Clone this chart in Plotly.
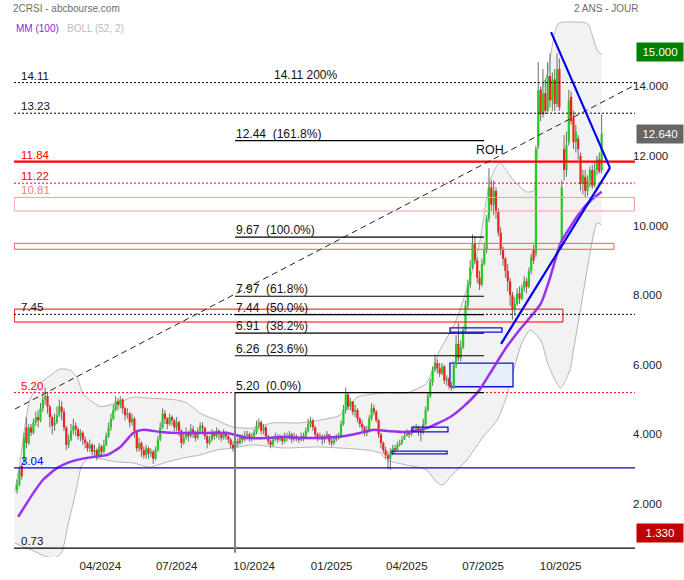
import numpy as np
import pandas as pd
import plotly.graph_objects as go

# ---------------- data ----------------
FIRST_SESSION = "2023-12-22"
N_SESSIONS = 499
SESSIONS_PER_CANDLE = 2

opens = [
    2.40, 2.55, 3.10, 3.20, 4.20, 3.75, 4.20, 4.05, 4.35, 4.50,
    4.40, 4.75, 5.00, 5.10, 4.80, 4.50, 4.25, 4.35, 4.55, 4.80,
    4.65, 4.20, 3.70, 3.85, 4.10, 4.25, 4.15, 3.95, 4.05, 3.85,
    3.75, 3.60, 3.70, 3.50, 3.55, 3.40, 3.65, 3.50, 3.70, 3.95,
    4.20, 4.45, 4.70, 4.95, 4.85, 5.00, 4.75, 4.55, 4.60, 4.35,
    4.45, 4.10, 3.60, 3.75, 3.55, 3.40, 3.60, 3.45, 3.50, 3.30,
    3.55, 3.85, 4.20, 4.60, 4.45, 4.30, 4.50, 4.40, 4.20, 4.35,
    4.10, 3.75, 3.90, 4.05, 3.95, 4.15, 4.05, 3.90, 4.10, 4.25,
    4.20, 3.95, 3.75, 3.85, 4.05, 3.95, 4.10, 4.00, 3.90, 4.05,
    3.95, 3.85, 3.70, 3.60, 3.80, 3.75, 3.90, 3.85, 3.95, 4.00,
    3.90, 3.95, 4.05, 4.25, 4.35, 4.10, 4.20, 3.95, 3.80, 3.70,
    3.85, 3.95, 3.85, 3.90, 3.80, 3.95, 3.90, 4.00, 3.85, 3.95,
    3.90, 3.85, 3.95, 3.90, 4.10, 4.30, 4.40, 4.20, 4.00, 3.90,
    3.95, 3.85, 3.90, 4.00, 3.80, 3.75, 3.85, 3.90, 3.95, 4.30,
    4.70, 5.15, 4.80, 4.95, 4.65, 4.70, 4.45, 4.30, 4.20, 4.05,
    4.10, 4.45, 4.75, 4.65, 4.40, 4.00, 3.75, 3.55, 3.40, 3.30,
    3.45, 3.60, 3.55, 3.70, 3.75, 3.85, 3.95, 4.05, 4.00, 4.10,
    4.15, 4.20, 4.10, 4.05, 4.30, 4.70, 5.10, 5.50, 5.85, 6.05,
    5.90, 5.75, 5.95, 5.55, 5.60, 5.40, 5.35, 6.00, 6.60, 6.20,
    6.50, 7.00, 7.70, 8.30, 8.80, 9.50, 9.00, 8.50, 8.30, 8.90,
    9.30, 10.20, 11.10, 10.60, 11.00, 10.40, 9.80, 9.30, 9.05, 8.70,
    8.40, 8.00, 7.60, 7.75, 8.05, 7.90, 8.20, 8.40, 8.25, 8.70,
    9.30, 9.20, 12.30, 13.90, 13.20, 13.80, 13.30, 14.30, 13.60, 14.20,
    13.50, 14.50, 9.50, 12.20, 11.60, 12.40, 13.70, 13.10, 12.40, 12.50,
    12.00, 11.20, 11.40, 11.00, 11.30, 11.60, 11.15, 11.60, 11.90, 11.60,
]
closes = [
    2.55, 2.95, 2.80, 3.90, 3.75, 4.20, 4.05, 4.35, 4.50, 4.40,
    4.75, 5.00, 5.10, 4.80, 4.50, 4.25, 4.35, 4.55, 4.80, 4.65,
    4.20, 3.70, 3.85, 4.10, 4.25, 4.15, 3.95, 4.05, 3.85, 3.75,
    3.60, 3.70, 3.50, 3.55, 3.40, 3.65, 3.50, 3.70, 3.95, 4.20,
    4.45, 4.70, 4.95, 4.85, 5.00, 4.75, 4.55, 4.60, 4.35, 4.45,
    4.10, 3.60, 3.75, 3.55, 3.40, 3.60, 3.45, 3.50, 3.30, 3.55,
    3.85, 4.20, 4.60, 4.45, 4.30, 4.50, 4.40, 4.20, 4.35, 4.10,
    3.75, 3.90, 4.05, 3.95, 4.15, 4.05, 3.90, 4.10, 4.25, 4.20,
    3.95, 3.75, 3.85, 4.05, 3.95, 4.10, 4.00, 3.90, 4.05, 3.95,
    3.85, 3.70, 3.60, 3.80, 3.75, 3.90, 3.85, 3.95, 4.00, 3.90,
    3.95, 4.05, 4.25, 4.35, 4.10, 4.20, 3.95, 3.80, 3.70, 3.85,
    3.95, 3.85, 3.90, 3.80, 3.95, 3.90, 4.00, 3.85, 3.95, 3.90,
    3.85, 3.95, 3.90, 4.10, 4.30, 4.40, 4.20, 4.00, 3.90, 3.95,
    3.85, 3.90, 4.00, 3.80, 3.75, 3.85, 3.90, 3.95, 4.30, 4.70,
    5.15, 4.80, 4.95, 4.65, 4.70, 4.45, 4.30, 4.20, 4.05, 4.10,
    4.45, 4.75, 4.65, 4.40, 4.00, 3.75, 3.55, 3.40, 3.30, 3.45,
    3.60, 3.55, 3.70, 3.75, 3.85, 3.95, 4.05, 4.00, 4.10, 4.15,
    4.20, 4.10, 4.05, 4.30, 4.70, 5.10, 5.50, 5.85, 6.05, 5.90,
    5.75, 5.95, 5.55, 5.60, 5.40, 5.35, 6.00, 6.60, 6.20, 6.50,
    7.00, 7.70, 8.30, 8.80, 9.50, 9.00, 8.50, 8.30, 8.90, 9.30,
    10.20, 11.10, 10.60, 11.00, 10.40, 9.80, 9.30, 9.05, 8.70, 8.40,
    8.00, 7.60, 7.75, 8.05, 7.90, 8.20, 8.40, 8.25, 8.70, 9.10,
    9.00, 12.20, 13.90, 13.20, 13.80, 13.30, 14.30, 13.60, 14.20, 13.50,
    14.50, 13.40, 11.10, 11.60, 12.30, 13.60, 13.00, 12.40, 12.70, 12.20,
    11.20, 11.45, 11.00, 11.30, 11.60, 11.15, 11.60, 11.90, 11.55, 12.64,
]
highs = [
    2.70, 3.05, 3.15, 4.05, 4.50, 4.30, 4.30, 4.45, 4.65, 4.70,
    4.90, 5.15, 5.35, 5.20, 4.85, 4.55, 4.60, 4.80, 5.00, 4.95,
    4.75, 4.25, 4.00, 4.30, 4.45, 4.35, 4.20, 4.15, 4.10, 3.95,
    3.80, 3.85, 3.75, 3.70, 3.60, 3.75, 3.70, 3.85, 4.05, 4.35,
    4.60, 4.85, 5.10, 5.05, 5.10, 5.05, 4.80, 4.75, 4.65, 4.60,
    4.50, 4.10, 3.90, 3.80, 3.65, 3.70, 3.65, 3.60, 3.55, 3.65,
    3.95, 4.35, 4.75, 4.70, 4.50, 4.60, 4.55, 4.45, 4.50, 4.40,
    4.15, 4.05, 4.20, 4.10, 4.30, 4.25, 4.10, 4.20, 4.35, 4.35,
    4.20, 4.00, 3.95, 4.15, 4.10, 4.20, 4.15, 4.05, 4.15, 4.10,
    4.00, 3.90, 3.80, 3.90, 3.90, 4.00, 4.00, 4.10, 4.10, 4.05,
    4.05, 4.15, 4.40, 4.45, 4.40, 4.30, 4.25, 4.00, 3.85, 3.95,
    4.05, 4.00, 4.00, 3.95, 4.05, 4.05, 4.10, 4.05, 4.05, 4.00,
    3.95, 4.05, 4.05, 4.20, 4.45, 4.50, 4.45, 4.25, 4.05, 4.05,
    4.00, 4.00, 4.10, 4.00, 3.90, 3.95, 4.00, 4.05, 4.40, 4.85,
    5.35, 5.20, 5.05, 4.95, 4.85, 4.75, 4.50, 4.40, 4.25, 4.25,
    4.55, 4.90, 4.85, 4.70, 4.45, 4.05, 3.80, 3.65, 3.50, 3.60,
    3.70, 3.70, 3.80, 3.85, 3.95, 4.05, 4.15, 4.10, 4.20, 4.25,
    4.30, 4.25, 4.15, 4.45, 4.80, 5.20, 5.60, 5.95, 6.30, 6.15,
    6.05, 6.05, 6.00, 5.70, 5.65, 5.50, 6.10, 6.85, 7.20, 6.70,
    7.10, 7.85, 8.45, 9.00, 9.75, 9.70, 9.10, 8.70, 9.05, 9.50,
    10.30, 11.65, 11.30, 11.30, 11.10, 10.50, 9.95, 9.40, 9.10, 8.90,
    8.50, 8.10, 7.95, 8.20, 8.25, 8.30, 8.55, 8.50, 8.80, 9.20,
    9.45, 12.30, 14.70, 14.00, 14.50, 14.20, 14.70, 14.95, 14.40, 14.50,
    14.95, 14.80, 11.30, 12.60, 12.70, 13.90, 13.85, 13.30, 12.90, 12.60,
    12.10, 11.60, 11.60, 11.45, 11.70, 11.75, 11.80, 12.00, 12.10, 13.20,
]
lows = [
    2.30, 2.50, 2.70, 3.15, 3.60, 3.70, 3.95, 4.00, 4.25, 4.20,
    4.35, 4.65, 4.85, 4.60, 4.20, 4.00, 4.10, 4.30, 4.50, 4.40,
    4.10, 3.55, 3.60, 3.80, 4.00, 3.95, 3.85, 3.80, 3.70, 3.60,
    3.50, 3.50, 3.40, 3.35, 3.25, 3.35, 3.40, 3.45, 3.65, 3.90,
    4.10, 4.40, 4.65, 4.70, 4.75, 4.60, 4.40, 4.45, 4.20, 4.25,
    3.90, 3.50, 3.50, 3.35, 3.30, 3.30, 3.30, 3.35, 3.15, 3.25,
    3.50, 3.80, 4.15, 4.30, 4.15, 4.25, 4.25, 4.10, 4.10, 3.95,
    3.60, 3.70, 3.85, 3.80, 3.90, 3.90, 3.80, 3.85, 4.05, 4.05,
    3.85, 3.60, 3.70, 3.80, 3.85, 3.90, 3.85, 3.80, 3.85, 3.85,
    3.75, 3.60, 3.50, 3.55, 3.65, 3.70, 3.75, 3.80, 3.85, 3.80,
    3.80, 3.90, 4.00, 4.15, 4.00, 4.00, 3.90, 3.70, 3.60, 3.65,
    3.80, 3.75, 3.80, 3.70, 3.75, 3.80, 3.85, 3.75, 3.80, 3.80,
    3.75, 3.80, 3.80, 3.90, 4.05, 4.20, 4.10, 3.90, 3.80, 3.85,
    3.70, 3.75, 3.85, 3.70, 3.65, 3.70, 3.80, 3.85, 3.90, 4.25,
    4.60, 4.70, 4.70, 4.55, 4.50, 4.35, 4.20, 4.05, 3.95, 3.95,
    4.05, 4.40, 4.55, 4.35, 3.90, 3.60, 3.45, 3.30, 3.00, 2.98,
    3.40, 3.45, 3.55, 3.65, 3.70, 3.85, 3.95, 3.90, 3.95, 4.05,
    4.05, 3.95, 3.80, 4.00, 4.25, 4.65, 5.05, 5.40, 5.80, 5.75,
    5.65, 5.70, 5.45, 5.40, 5.30, 5.25, 5.30, 5.90, 6.10, 6.10,
    6.45, 6.95, 7.60, 8.20, 8.75, 8.90, 8.35, 8.15, 8.25, 8.85,
    9.20, 10.10, 10.40, 10.30, 10.20, 9.70, 9.15, 8.85, 8.50, 8.10,
    7.70, 7.30, 7.45, 7.70, 7.75, 7.85, 8.10, 8.05, 8.20, 8.60,
    8.90, 9.10, 12.20, 13.00, 13.10, 13.20, 13.25, 13.40, 13.30, 13.30,
    13.40, 13.30, 9.30, 11.30, 11.40, 12.30, 12.90, 12.20, 12.10, 11.90,
    11.00, 10.90, 10.80, 10.85, 11.10, 11.05, 11.10, 11.45, 11.50, 11.50,
]

# moving average MM(100), sampled (session index, value)
ma_idx = [1, 14, 22, 34, 43, 54, 65, 77, 88, 99, 107, 122, 139, 156, 179, 196, 213, 227, 241, 258,
          275, 292, 303, 315, 332, 349, 369, 380, 394, 403, 417, 428, 446, 454, 463, 471, 480, 488, 498]
ma_val = [1.63, 2.32, 2.69, 3.03, 3.18, 3.29, 3.35, 3.41, 3.64, 4.04, 4.13, 4.07, 4.04, 4.04, 4.04, 3.90,
          3.90, 3.93, 3.90, 3.90, 3.93, 4.04, 4.13, 4.10, 4.07, 4.18, 4.50, 4.79, 5.28, 5.76, 6.51, 7.00,
          7.75, 8.50, 9.50, 9.95, 10.40, 10.70, 10.97]

# Bollinger (52, 2) bands, sampled
boll_up_idx = [-2, 3, 7, 11, 20, 31, 37, 45, 51, 56, 62, 71, 85, 99, 113, 136, 145, 156, 170, 184,
               201, 218, 241, 258, 275, 290, 312, 332, 349, 360, 373, 383, 394, 403, 411, 423, 434, 440,
               443, 446, 452, 461, 475, 486, 494, 498]
boll_up_val = [2.34, 3.30, 4.30, 5.00, 5.48, 5.76, 5.88, 5.85, 5.65, 5.19, 4.99, 4.80, 4.90, 5.07, 5.04,
               4.99, 4.90, 4.61, 4.41, 4.21, 4.18, 4.33, 4.33, 4.41, 4.55, 5.07, 5.19, 5.19, 5.48, 6.40,
               7.20, 8.15, 9.50, 11.30, 11.80, 11.30, 10.97, 11.00, 11.90, 13.80, 14.40, 15.80, 15.85,
               15.80, 15.05, 14.90]
boll_lo_idx = [-2, 11, 24, 32, 38, 43, 47, 51, 55, 62, 71, 85, 99, 113, 128, 141, 156, 170, 184, 201,
               227, 256, 275, 298, 309, 315, 332, 349, 358, 363, 369, 383, 397, 409, 417, 423, 430, 437,
               446, 452, 457, 463, 471, 474, 480, 486, 494, 498]
boll_lo_val = [0.88, 0.70, 0.50, 0.45, 0.60, 1.34, 1.90, 2.49, 3.10, 3.35, 3.30, 3.21, 3.18, 3.06, 3.21,
               3.32, 3.41, 3.55, 3.61, 3.70, 3.61, 3.64, 3.61, 3.55, 3.47, 3.26, 3.12, 2.98, 2.60, 2.55,
               2.78, 3.26, 3.93, 4.41, 5.07, 5.85, 6.63, 7.00, 6.71, 6.05, 5.65, 5.33, 5.85, 6.43, 7.60,
               8.81, 10.07, 10.02]

# horizontal levels drawn across the chart
level_values = [14.11, 13.23, 11.84, 11.22, 10.81, 7.45, 5.20, 3.04, 0.73]
level_labels = ["14.11", "13.23", "11.84", "11.22", "10.81", "7.45", "5.20", "3.04", "0.73"]

# zones (low, high, end session)
zone_low = [10.42, 9.32, 7.23]
zone_high = [10.81, 9.49, 7.60]
zone_end = [526.0, 508.5, 465.0]

# Fibonacci retracement
fib_levels = [12.44, 9.67, 7.97, 7.44, 6.91, 6.26, 5.20]
fib_pcts = ["161.8%", "100.0%", "61.8%", "50.0%", "38.2%", "23.6%", "0.0%"]
fib_start, fib_end = 185.7, 397.8
fib_ext_level, fib_ext_text = 14.11, "14.11 200%"

# blue boxes (x0, x1 session, low, high)
box_x0 = [368.8, 368.8, 336.5, 319.4]
box_x1 = [422.5, 413.1, 367.1, 366.3]
box_low = [5.37, 6.94, 4.07, 3.44]
box_high = [6.05, 7.06, 4.21, 3.52]

# trend lines
wedge_idx = [454.9, 505.1, 412.3]
wedge_val = [15.56, 11.66, 6.60]
trend_idx = [-1.7, 526.4]
trend_val = [4.73, 14.04]

tag_values = [15.0, 12.64, 1.33]
tag_texts = ["15.000", "12.640", "1.330"]

quarter_starts = ["2024-04-01", "2024-07-01", "2024-10-01", "2025-01-01",
                  "2025-04-01", "2025-07-01", "2025-10-01"]
price_ticks = [2, 4, 6, 8, 10, 12, 14]

# ---------------- figure ----------------
sessions = pd.bdate_range(FIRST_SESSION, periods=N_SESSIONS)
cx = np.arange(len(closes)) * SESSIONS_PER_CANDLE
tickvals = [int(np.searchsorted(sessions, pd.Timestamp(d))) for d in quarter_starts]
ticktext = [pd.Timestamp(d).strftime("%m/%Y") for d in quarter_starts]

X_RANGE = [-2.56, 526.4]
Y_RANGE = [0.477, 15.966]
FONT = "Liberation Sans, Arial, sans-serif"

fig = go.Figure()

# Bollinger fill
fig.add_trace(go.Scatter(
    x=boll_up_idx + boll_lo_idx[::-1], y=boll_up_val + boll_lo_val[::-1],
    fill="toself", fillcolor="#f2f2f2", line=dict(width=0), mode="lines",
    hoverinfo="skip", showlegend=False))
for bx, bv in ((boll_up_idx, boll_up_val), (boll_lo_idx, boll_lo_val)):
    fig.add_trace(go.Scatter(x=bx, y=bv, mode="lines",
                             line=dict(color="#b4b4b4", width=1, shape="spline", smoothing=0.6),
                             hoverinfo="skip", showlegend=False))

# filled blue box (first one)
fig.add_trace(go.Scatter(
    x=[box_x0[0], box_x1[0], box_x1[0], box_x0[0], box_x0[0]],
    y=[box_low[0], box_low[0], box_high[0], box_high[0], box_low[0]],
    fill="toself", fillcolor="#e6eef8", mode="lines",
    line=dict(color="#1010d0", width=1.3), hoverinfo="skip", showlegend=False))

# wicks
wx, wy = [], []
for x, h, l in zip(cx, highs, lows):
    wx += [x, x, None]
    wy += [l, h, None]
fig.add_trace(go.Scatter(x=wx, y=wy, mode="lines", line=dict(color="#6e6e6e", width=1),
                         hoverinfo="skip", showlegend=False))

# bodies as thick segments
MIN_BODY = 0.04
for up, col in ((True, "#22cc22"), (False, "#ee2222")):
    bx, by = [], []
    for x, o, c in zip(cx, opens, closes):
        if (c >= o) != up:
            continue
        lo, hi = min(o, c), max(o, c)
        if hi - lo < MIN_BODY:
            mid = (hi + lo) / 2
            lo, hi = mid - MIN_BODY / 2, mid + MIN_BODY / 2
        bx += [x, x, None]
        by += [lo, hi, None]
    fig.add_trace(go.Scatter(x=bx, y=by, mode="lines", line=dict(color=col, width=2.2),
                             hoverinfo="skip", showlegend=False))

# MM(100)
fig.add_trace(go.Scatter(x=ma_idx, y=ma_val, mode="lines",
                         line=dict(color="#9b30f0", width=2.5, shape="spline", smoothing=0.6),
                         hoverinfo="skip", showlegend=False))

shapes = []
annotations = []

level_style = {
    "14.11": dict(color="#000000", width=1, dash="2px,2px"),
    "13.23": dict(color="#000000", width=1, dash="2px,2px"),
    "11.84": dict(color="#ff0000", width=2.2, dash="solid"),
    "11.22": dict(color="#ff0000", width=1, dash="2px,2px"),
    "10.81": None,
    "7.45": dict(color="#000000", width=1, dash="2px,2px"),
    "5.20": dict(color="#ff0000", width=1, dash="2px,2px"),
    "3.04": dict(color="#0000dd", width=1.2, dash="solid"),
    "0.73": dict(color="#000000", width=1.3, dash="solid"),
}
label_color = {"14.11": "#111111", "13.23": "#111111", "11.84": "#ff0000", "11.22": "#ff0000",
               "10.81": "#f08080", "7.45": "#111111", "5.20": "#ff0000", "3.04": "#0000ff",
               "0.73": "#111111"}

# zones
zone_colors = ["#ff9a9a", "#ff5a5a", "#ff0000"]
for lo, hi, xe, zc in zip(zone_low, zone_high, zone_end, zone_colors):
    shapes.append(dict(type="rect", xref="x", yref="y", x0=-2.3, x1=xe, y0=lo, y1=hi,
                       line=dict(color=zc, width=1), fillcolor="rgba(0,0,0,0)", layer="above"))

for v, lab in zip(level_values, level_labels):
    st = level_style[lab]
    if st is not None:
        shapes.append(dict(type="line", xref="x", yref="y", x0=X_RANGE[0], x1=X_RANGE[1], y0=v, y1=v,
                           line=st, layer="above"))
    annotations.append(dict(x=1.5, y=v, xref="x", yref="y", text=lab, showarrow=False,
                            xanchor="left", yanchor="bottom", yshift=-1,
                            font=dict(family=FONT, size=11.5, color=label_color[lab])))

# fib vertical anchor line
shapes.append(dict(type="line", xref="x", yref="paper", x0=fib_start, x1=fib_start,
                   y0=0.008, y1=(fib_levels[-1] - Y_RANGE[0]) / (Y_RANGE[1] - Y_RANGE[0]),
                   line=dict(color="#808080", width=2), layer="above"))
for v, p in zip(fib_levels, fib_pcts):
    shapes.append(dict(type="line", xref="x", yref="y", x0=fib_start, x1=fib_end, y0=v, y1=v,
                       line=dict(color="#000000", width=1.2), layer="above"))
    annotations.append(dict(x=fib_start - 0.5, y=v, xref="x", yref="y",
                            text=f"{v:.2f}\u00a0\u00a0({p})", showarrow=False,
                            xanchor="left", yanchor="bottom", yshift=-2,
                            font=dict(family=FONT, size=12, color="#111111")))
annotations.append(dict(x=217.0, y=fib_ext_level, xref="x", yref="y", text=fib_ext_text,
                        showarrow=False, xanchor="left", yanchor="bottom", yshift=-1,
                        font=dict(family=FONT, size=12, color="#111111")))
annotations.append(dict(x=389.0, y=11.84, xref="x", yref="y", text="ROH",
                        showarrow=False, xanchor="left", yanchor="bottom", yshift=3,
                        font=dict(family=FONT, size=12.5, color="#111111")))

# blue outline boxes
for x0, x1, lo, hi in list(zip(box_x0, box_x1, box_low, box_high))[1:]:
    shapes.append(dict(type="rect", xref="x", yref="y", x0=x0, x1=x1, y0=lo, y1=hi,
                       line=dict(color="#1010d0", width=1.3), fillcolor="rgba(0,0,0,0)",
                       layer="above"))

# dashed trend line
shapes.append(dict(type="line", xref="x", yref="y", x0=trend_idx[0], x1=trend_idx[1],
                   y0=trend_val[0], y1=trend_val[1],
                   line=dict(color="#222222", width=1, dash="6px,4px"), layer="above"))
# wedge
shapes.append(dict(type="line", xref="x", yref="y", x0=wedge_idx[0], x1=wedge_idx[1],
                   y0=wedge_val[0], y1=wedge_val[1], line=dict(color="#0000ee", width=2.2),
                   layer="above"))
shapes.append(dict(type="line", xref="x", yref="y", x0=wedge_idx[2], x1=wedge_idx[1],
                   y0=wedge_val[2], y1=wedge_val[1], line=dict(color="#0000ee", width=2.2),
                   layer="above"))

# value tags on the price scale
tag_bg = ["#008000", "#666666", "#c00000"]
tag_shift = [0, 0, -6]
for v, t, bg, sh in zip(tag_values, tag_texts, tag_bg, tag_shift):
    annotations.append(dict(x=1, y=v, xref="paper", yref="y", text=t, showarrow=False,
                            xanchor="left", yanchor="middle", xshift=1, yshift=sh,
                            bgcolor=bg, width=44, height=16, borderpad=1,
                            font=dict(family=FONT, size=11.5, color="#ffffff")))

# header texts
annotations += [
    dict(x=-0.005, y=1.017, xref="paper", yref="paper", text="2CRSI - abcbourse.com",
         showarrow=False, xanchor="left", yanchor="middle",
         font=dict(family=FONT, size=10, color="#6e6e6e")),
    dict(x=1.008, y=1.017, xref="paper", yref="paper", text="2 ANS - JOUR",
         showarrow=False, xanchor="right", yanchor="middle",
         font=dict(family=FONT, size=10, color="#6e6e6e")),
    dict(x=0.0, y=0.98, xref="paper", yref="paper", text="MM (100)",
         showarrow=False, xanchor="left", yanchor="middle",
         font=dict(family=FONT, size=10, color="#8a2be2")),
    dict(x=0.082, y=0.98, xref="paper", yref="paper", text="BOLL (52, 2)",
         showarrow=False, xanchor="left", yanchor="middle",
         font=dict(family=FONT, size=10, color="#bdbdbd")),
]

fig.update_layout(
    width=684, height=580,
    margin=dict(l=14, r=49, t=18, b=23, autoexpand=False),
    paper_bgcolor="#ffffff", plot_bgcolor="#ffffff",
    showlegend=False,
    shapes=shapes, annotations=annotations,
    xaxis=dict(range=X_RANGE, tickvals=tickvals, ticktext=ticktext, showgrid=False,
               zeroline=False, showline=False, ticks="", fixedrange=True, automargin=False,
               tickfont=dict(family=FONT, size=11.5, color="#222222")),
    yaxis=dict(range=Y_RANGE, side="right", tickvals=price_ticks,
               ticktext=[f"{t:.3f}" for t in price_ticks], showgrid=False, zeroline=False,
               showline=False, ticks="", fixedrange=True, automargin=False, ticklabelstandoff=-3,
               tickfont=dict(family=FONT, size=11.5, color="#222222")),
)

# the page body's default 8px margin would push the chart off the 684x580 window
fig.write_html("out.html", config={"displayModeBar": False},
               post_script="document.body.style.margin='0';document.body.style.overflow='hidden';")
